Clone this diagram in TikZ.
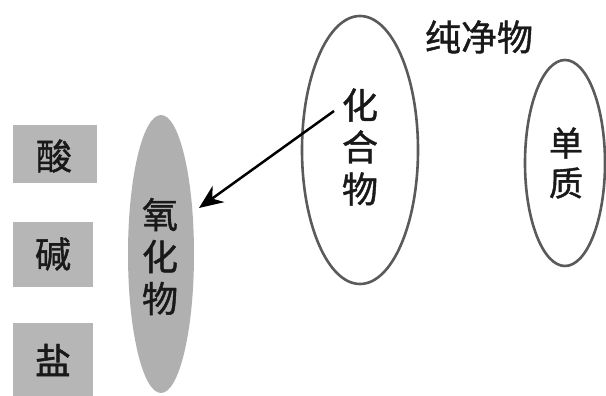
\documentclass[tikz,border=0pt]{standalone}
\usepackage{fontspec}
\newfontfamily\cjk[FakeBold=1.2]{Noto Sans CJK SC}
\usetikzlibrary{arrows.meta,shapes.geometric}
\definecolor{edgegray}{HTML}{5A5A5A}
\definecolor{boxgray}{HTML}{B6B6B6}
\definecolor{ellgray}{HTML}{B0B0B0}
\tikzset{
  oval/.style={ellipse, draw=edgegray, line width=2.6pt, inner sep=0pt},
  catbox/.style={fill=boxgray, draw=none, inner sep=0pt},
  lbl/.style={font=\cjk\fontsize{36}{42}\selectfont, align=center, text=black!90, inner sep=0pt},
  arr/.style={-{Stealth[length=24pt,width=20pt]}, line width=2.5pt}
}
\begin{document}
\begin{tikzpicture}[x=1pt,y=1pt]
\useasboundingbox (0,0) rectangle (606,396);
% ellipses
\node[oval, minimum width=116pt, minimum height=268pt] (hhw) at (360,246) {};
\node[oval, minimum width=80pt, minimum height=206pt] (dz) at (565,233) {};
\node[ellipse, fill=ellgray, draw=none, minimum width=66pt, minimum height=278pt, inner sep=0pt] (yhw) at (161,142) {};
% boxes
\node[catbox, minimum width=84pt, minimum height=58pt] (suanbox) at (55,242) {};
\node[catbox, minimum width=80pt, minimum height=65pt] (jianbox) at (53,141.5) {};
\node[catbox, minimum width=80pt, minimum height=73pt] (yanbox) at (53,36.5) {};
% texts
\node[lbl] (cjw) at (479,359) {纯净物};
\node[lbl] (hhwt) at (360,249) {化\\合\\物};
\node[lbl, font=\cjk\fontsize{34}{40}\selectfont] (dzt) at (566,233) {单\\质};
\node[lbl] (yhwt) at (160,139.5) {氧\\化\\物};
\node[lbl] (suan) at (54,240) {酸};
\node[lbl] (jian) at (53,142) {碱};
\node[lbl] (yan) at (53,36) {盐};
% arrow
\coordinate (astart) at (334,285);
\coordinate (aend) at (199,188);
\draw[arr] (astart) -- (aend);
\end{tikzpicture}
\end{document}
